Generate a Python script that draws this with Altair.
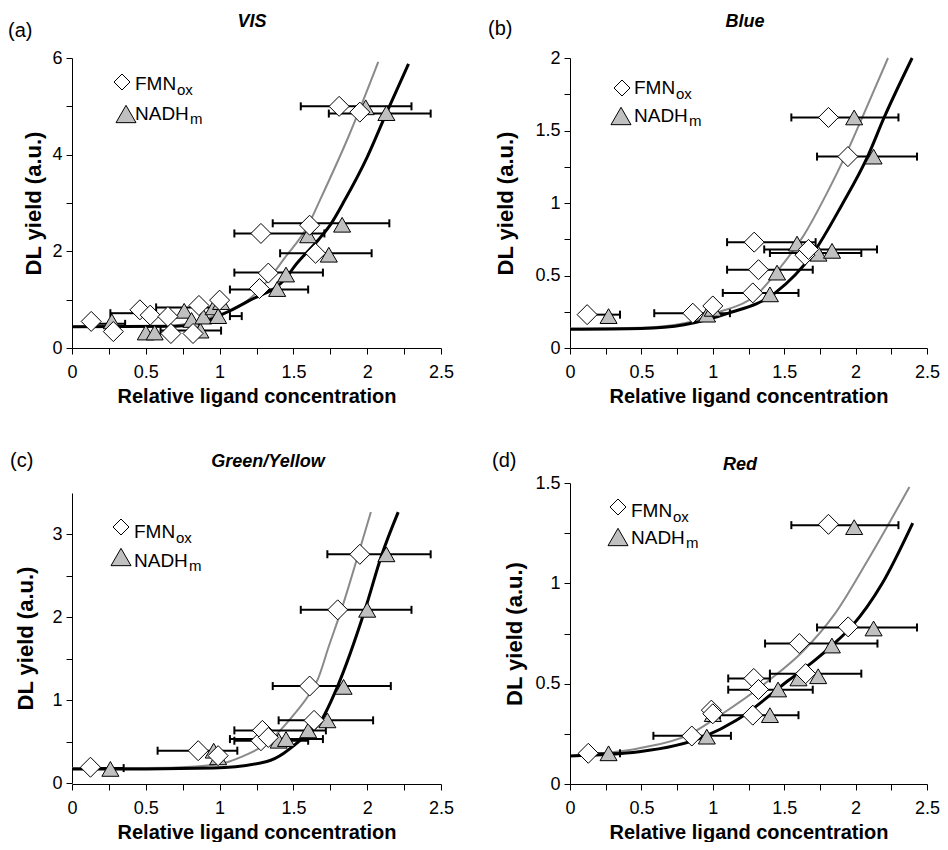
import altair as alt
import pandas as pd

FONT = "Liberation Sans"

# ---------------- (a) VIS ----------------
A_FMN_X = [0.13, 0.28, 0.46, 0.53, 0.65, 0.67, 0.82, 0.86, 1.00, 1.27, 1.28, 1.33, 1.61, 1.65, 1.81, 1.95]
A_FMN_Y = [0.55, 0.34, 0.79, 0.68, 0.65, 0.30, 0.30, 0.88, 0.99, 1.23, 2.37, 1.55, 2.54, 1.96, 5.00, 4.88]
A_NADH_X = [0.27, 0.50, 0.56, 0.76, 0.81, 0.87, 0.89, 0.96, 0.99, 1.01, 1.39, 1.45, 1.60, 1.74, 1.83, 1.99, 2.13]
A_NADH_Y = [0.55, 0.32, 0.32, 0.77, 0.58, 0.36, 0.65, 0.84, 0.66, 0.95, 1.22, 1.52, 2.33, 1.93, 2.55, 4.98, 4.86]
A_ERR_Y = [5.00, 4.85, 2.58, 2.37, 1.96, 1.56, 1.21, 0.50, 0.72, 0.84, 0.36, 0.66]
A_ERR_LO = [1.55, 1.74, 1.36, 1.10, 1.41, 1.10, 1.07, 0.11, 0.26, 0.57, 0.60, 1.07]
A_ERR_HI = [2.30, 2.43, 2.15, 1.71, 2.03, 1.70, 1.60, 0.36, 0.47, 0.99, 1.01, 1.15]
A_FIT_FMN_X = [0.0, 0.6, 0.8, 1.0, 1.125, 1.33, 1.44, 1.60, 1.68, 1.87, 2.075]
A_FIT_FMN_Y = [0.44, 0.45, 0.52, 0.70, 0.85, 1.41, 1.86, 2.54, 3.06, 4.35, 5.92]
A_FIT_NADH_X = [0.0, 0.7, 0.9, 1.057, 1.2, 1.45, 1.51, 1.667, 1.757, 1.848, 2.0, 2.13, 2.28]
A_FIT_NADH_Y = [0.44, 0.45, 0.55, 0.75, 0.98, 1.45, 1.70, 2.23, 2.58, 3.06, 3.95, 4.86, 5.88]

# ---------------- (b) Blue ----------------
B_FMN_X = [0.12, 0.86, 1.00, 1.28, 1.29, 1.32, 1.645, 1.67, 1.81, 1.946]
B_FMN_Y = [0.23, 0.24, 0.29, 0.38, 0.73, 0.54, 0.64, 0.68, 1.59, 1.32]
B_NADH_X = [0.27, 0.96, 1.00, 1.40, 1.45, 1.59, 1.74, 1.835, 1.99, 2.126]
B_NADH_Y = [0.22, 0.23, 0.27, 0.37, 0.52, 0.72, 0.65, 0.67, 1.59, 1.32]
B_ERR_Y = [1.59, 1.32, 0.73, 0.68, 0.655, 0.54, 0.38, 0.24, 0.23]
B_ERR_LO = [1.55, 1.73, 1.10, 1.36, 1.40, 1.10, 1.07, 0.59, 0.13]
B_ERR_HI = [2.30, 2.43, 1.72, 2.15, 2.04, 1.70, 1.60, 1.12, 0.35]
B_FIT_FMN_X = [0.0, 0.5, 0.8, 1.02, 1.32, 1.46, 1.645, 1.80, 1.93, 2.06, 2.227]
B_FIT_FMN_Y = [0.135, 0.14, 0.17, 0.24, 0.38, 0.54, 0.79, 1.07, 1.33, 1.62, 2.0]
B_FIT_NADH_X = [0.0, 0.5, 0.8, 1.11, 1.437, 1.70, 1.90, 2.084, 2.2, 2.396]
B_FIT_NADH_Y = [0.13, 0.135, 0.16, 0.24, 0.38, 0.65, 0.98, 1.32, 1.59, 2.0]

# ---------------- (c) Green/Yellow ----------------
C_FMN_X = [0.125, 0.855, 0.99, 1.28, 1.29, 1.33, 1.61, 1.64, 1.80, 1.95]
C_FMN_Y = [0.19, 0.39, 0.33, 0.51, 0.635, 0.55, 1.17, 0.756, 2.09, 2.76]
C_NADH_X = [0.26, 0.96, 0.99, 1.40, 1.45, 1.60, 1.73, 1.84, 2.00, 2.13]
C_NADH_Y = [0.17, 0.39, 0.31, 0.51, 0.53, 0.635, 0.756, 1.16, 2.09, 2.76]
C_ERR_Y = [2.76, 2.09, 1.17, 0.756, 0.635, 0.53, 0.51, 0.39, 0.18]
C_ERR_LO = [1.73, 1.55, 1.36, 1.40, 1.10, 1.07, 1.10, 0.58, 0.13]
C_ERR_HI = [2.43, 2.30, 2.16, 2.04, 1.72, 1.70, 1.60, 1.12, 0.35]
C_FIT_FMN_X = [0.0, 0.5, 0.84, 1.05, 1.14, 1.32, 1.51, 1.60, 1.665, 1.74, 1.825, 1.93, 2.025]
C_FIT_FMN_Y = [0.18, 0.18, 0.20, 0.25, 0.31, 0.48, 0.84, 1.05, 1.25, 1.65, 2.09, 2.70, 3.27]
C_FIT_NADH_X = [0.0, 0.5, 0.958, 1.32, 1.55, 1.69, 1.80, 1.985, 2.10, 2.21]
C_FIT_NADH_Y = [0.17, 0.17, 0.18, 0.26, 0.52, 0.76, 1.17, 2.09, 2.76, 3.27]

# ---------------- (d) Red ----------------
D_FMN_X = [0.128, 0.853, 0.99, 1.0, 1.28, 1.287, 1.32, 1.606, 1.65, 1.81, 1.948]
D_FMN_Y = [0.153, 0.239, 0.368, 0.35, 0.343, 0.526, 0.471, 0.70, 0.55, 1.294, 0.783]
D_NADH_X = [0.27, 0.958, 1.0, 1.40, 1.457, 1.60, 1.738, 1.834, 1.99, 2.126]
D_NADH_Y = [0.153, 0.236, 0.348, 0.343, 0.471, 0.526, 0.537, 0.69, 1.28, 0.775]
D_ERR_Y = [1.29, 0.78, 0.70, 0.55, 0.526, 0.47, 0.343, 0.24, 0.153]
D_ERR_LO = [1.55, 1.73, 1.366, 1.40, 1.108, 1.108, 1.05, 0.584, 0.13]
D_ERR_HI = [2.30, 2.43, 2.153, 2.04, 1.40, 1.70, 1.60, 1.127, 0.35]
D_FIT_FMN_X = [0.0, 0.484, 0.826, 1.054, 1.396, 1.63, 1.857, 2.085, 2.377]
D_FIT_FMN_Y = [0.14, 0.178, 0.244, 0.344, 0.518, 0.66, 0.85, 1.115, 1.48]
D_FIT_NADH_X = [0.0, 0.484, 0.94, 1.168, 1.533, 1.72, 1.834, 1.97, 2.187, 2.40]
D_FIT_NADH_Y = [0.14, 0.161, 0.236, 0.319, 0.518, 0.62, 0.69, 0.783, 1.0, 1.30]

X_TICKS = [0, 0.25, 0.5, 0.75, 1, 1.25, 1.5, 1.75, 2, 2.25, 2.5]
X_TITLE = "Relative ligand concentration"
Y_TITLE = "DL yield (a.u.)"

PANELS = [
    dict(label="(a)", title="VIS", w=369, h=290, ymax=6, yticks=[0, 1, 2, 3, 4, 5, 6],
         ylab="datum.value % 2 == 0 ? '' + datum.value : ''", ytp=6,
         lab=(-64, -21), tit=(180, -31), leg=(50, 24, 63, 32, 54, 56, 62),
         data=(A_FMN_X, A_FMN_Y, A_NADH_X, A_NADH_Y, A_ERR_Y, A_ERR_LO, A_ERR_HI,
               A_FIT_FMN_X, A_FIT_FMN_Y, A_FIT_NADH_X, A_FIT_NADH_Y)),
    dict(label="(b)", title="Blue", w=357, h=290, ymax=2,
         yticks=[0, 0.25, 0.5, 0.75, 1, 1.25, 1.5, 1.75, 2],
         ylab="datum.value % 0.5 == 0 ? '' + datum.value : ''", ytp=17,
         lab=(-82, -23), tit=(175, -31), leg=(52, 30, 64, 36, 51, 58, 64),
         data=(B_FMN_X, B_FMN_Y, B_NADH_X, B_NADH_Y, B_ERR_Y, B_ERR_LO, B_ERR_HI,
               B_FIT_FMN_X, B_FIT_FMN_Y, B_FIT_NADH_X, B_FIT_NADH_Y)),
    dict(label="(c)", title="Green/Yellow", w=369, h=301, ymax=3.5, yrange=[300, 10],
         yticks=[0, 0.5, 1, 1.5, 2, 2.5, 3],
         ylab="datum.value % 1 == 0 ? '' + datum.value : ''", ytp=14,
         lab=(-62, -16), tit=(196, -16), leg=(49, 44, 62, 55, 49, 74, 84),
         data=(C_FMN_X, C_FMN_Y, C_NADH_X, C_NADH_Y, C_ERR_Y, C_ERR_LO, C_ERR_HI,
               C_FIT_FMN_X, C_FIT_FMN_Y, C_FIT_NADH_X, C_FIT_NADH_Y)),
    dict(label="(d)", title="Red", w=357, h=301, ymax=1.5,
         yticks=[0, 0.25, 0.5, 0.75, 1, 1.25, 1.5],
         ylab="datum.value % 0.5 == 0 ? '' + datum.value : ''", ytp=8,
         lab=(-78, -16), tit=(170, -13), leg=(48, 24, 61, 34, 48, 54, 61),
         data=(D_FMN_X, D_FMN_Y, D_NADH_X, D_NADH_Y, D_ERR_Y, D_ERR_LO, D_ERR_HI,
               D_FIT_FMN_X, D_FIT_FMN_Y, D_FIT_NADH_X, D_FIT_NADH_Y)),
]


def make_panel(p):
    (fx, fy, nx, ny, ey, elo, ehi, gfx, gfy, gnx, gny) = p["data"]
    xs = alt.Scale(domain=[0, 2.5], nice=False, zero=False)
    yargs = dict(domain=[0, p["ymax"]], nice=False, zero=False)
    if "yrange" in p:
        yargs["range"] = p["yrange"]
    ys = alt.Scale(**yargs)
    xaxis = alt.Axis(values=X_TICKS, title=X_TITLE,
                     labelExpr="datum.value % 0.5 == 0 ? '' + datum.value : ''",
                     labelFlush=False, labelOverlap=False, labelPadding=9,
                     titlePadding=5, titleFontSize=20)
    yaxis = alt.Axis(values=p["yticks"], title=Y_TITLE, labelExpr=p["ylab"],
                     labelOverlap=False, labelPadding=4, titlePadding=p["ytp"],
                     titleFontSize=22)

    def X(f):
        return alt.X(f, type="quantitative", scale=xs, axis=xaxis)

    def Y(f):
        return alt.Y(f, type="quantitative", scale=ys, axis=yaxis)

    fmn = pd.DataFrame({"x": fx, "y": fy})
    nadh = pd.DataFrame({"x": nx, "y": ny})
    err = pd.DataFrame({"y": ey, "lo": elo, "hi": ehi})
    fit_f = pd.DataFrame({"x": gfx, "y": gfy})
    fit_n = pd.DataFrame({"x": gnx, "y": gny})
    one = pd.DataFrame({"k": [0]})

    line_f = alt.Chart(fit_f).mark_line(color="#8a8a8a", strokeWidth=2, interpolate="monotone").encode(x=X("x"), y=Y("y"))
    line_n = alt.Chart(fit_n).mark_line(color="black", strokeWidth=3, interpolate="monotone").encode(x=X("x"), y=Y("y"))
    bars = alt.Chart(err).mark_rule(color="black", strokeWidth=2).encode(x=X("lo"), x2="hi", y=Y("y"))
    cap_lo = alt.Chart(err).mark_tick(orient="vertical", size=8, thickness=2, color="black", opacity=1).encode(x=X("lo"), y=Y("y"))
    cap_hi = alt.Chart(err).mark_tick(orient="vertical", size=8, thickness=2, color="black", opacity=1).encode(x=X("hi"), y=Y("y"))
    pts_n = alt.Chart(nadh).mark_point(shape="triangle-up", filled=True, fill="#c0c0c0", stroke="black",
                                        strokeWidth=1, size=290, opacity=1).encode(x=X("x"), y=Y("y"))
    pts_f = alt.Chart(fmn).mark_point(shape="diamond", filled=True, fill="white", stroke="black",
                                       strokeWidth=1, size=400, opacity=1).encode(x=X("x"), y=Y("y"))

    dx, dy, tx, fty, trx, tryy, nty = p["leg"]
    leg_d = alt.Chart(one).mark_point(shape="diamond", filled=True, fill="white", stroke="black",
                                       strokeWidth=1, size=256, opacity=1).encode(x=alt.value(dx), y=alt.value(dy))
    leg_t = alt.Chart(one).mark_point(shape="triangle-up", filled=True, fill="#c0c0c0", stroke="black",
                                       strokeWidth=1, size=400, opacity=1).encode(x=alt.value(trx), y=alt.value(tryy))
    tstyle = dict(align="left", baseline="alphabetic", font=FONT, color="black")
    leg_f1 = alt.Chart(one).mark_text(text="FMN", fontSize=19, **tstyle).encode(x=alt.value(tx), y=alt.value(fty))
    leg_f2 = alt.Chart(one).mark_text(text="ox", fontSize=15, **tstyle).encode(x=alt.value(tx + 42), y=alt.value(fty + 5))
    leg_n1 = alt.Chart(one).mark_text(text="NADH", fontSize=19, **tstyle).encode(x=alt.value(tx), y=alt.value(nty))
    leg_n2 = alt.Chart(one).mark_text(text="m", fontSize=15, **tstyle).encode(x=alt.value(tx + 55), y=alt.value(nty + 4))

    lx, ly = p["lab"]
    lab = alt.Chart(one).mark_text(text=p["label"], fontSize=20, **tstyle).encode(x=alt.value(lx), y=alt.value(ly))
    ttx, tty = p["tit"]
    tit = alt.Chart(one).mark_text(text=p["title"], fontSize=18, fontWeight="bold", fontStyle="italic",
                                   align="center", baseline="alphabetic", font=FONT, color="black").encode(
        x=alt.value(ttx), y=alt.value(tty))

    return alt.layer(line_f, line_n, bars, cap_lo, cap_hi, pts_n, pts_f,
                     leg_d, leg_t, leg_f1, leg_f2, leg_n1, leg_n2, lab, tit).properties(
        width=p["w"], height=p["h"])


panels = [make_panel(p) for p in PANELS]

chart = alt.concat(
    *panels, columns=2, spacing={"row": 135, "column": 129}, bounds="flush",
).properties(
    padding={"left": 0, "top": 5, "right": 0, "bottom": 0}
).configure_view(stroke=None).configure_axis(
    grid=False, domainColor="black", domainWidth=1, tickColor="black", tickSize=6, tickWidth=1,
    labelFont=FONT, labelFontSize=18, labelColor="black",
    titleFont=FONT, titleFontWeight="bold", titleColor="black",
)

chart.save("out.html", embed_options={"renderer": "svg", "actions": False})
